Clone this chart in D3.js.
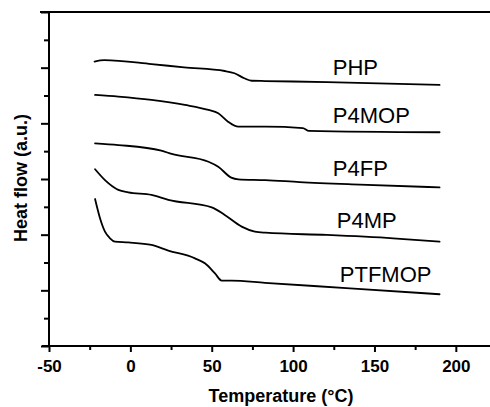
<!DOCTYPE html>
<html>
<head>
<meta charset="utf-8">
<script src="https://cdn.jsdelivr.net/npm/d3@7"></script>
<style>
html,body{margin:0;padding:0;background:#fff;}
svg{display:block;}
</style>
</head>
<body>
<svg id="chart" width="490" height="407"></svg>
<script>
// ---- data (temperature °C, heat flow a.u.) ----
const seriesNames = ["PHP", "P4MOP", "P4FP", "P4MP", "PTFMOP"];
const PHP = [[-22,10.22],[-16,10.27],[13,10.13],[33,10.01],[58,9.88],[64,9.80],[70,9.62],[74.5,9.53],[83,9.52],[121,9.48],[190,9.38]];
const P4MOP = [[-21.7,9.02],[-7.4,8.96],[13,8.84],[33.5,8.66],[48,8.48],[54,8.36],[60,8.06],[66.3,7.88],[83,7.88],[106,7.83],[109.7,7.73],[190,7.68]];
const P4FP = [[-21.7,7.28],[-7.4,7.22],[19,7.02],[25.4,6.90],[48,6.62],[54,6.44],[62,6.05],[66.3,5.99],[83,5.96],[104,5.89],[141,5.80],[190,5.70]];
const P4MP = [[-21.7,6.35],[-15.6,5.96],[-7.4,5.61],[-1.3,5.52],[13,5.43],[23.3,5.25],[50,4.98],[58,4.71],[68.4,4.29],[76.5,4.11],[83,4.07],[120.6,3.99],[161.5,3.87],[190,3.75]];
const PTFMOP = [[-21.7,5.28],[-18.7,4.60],[-15.6,4.11],[-12.5,3.87],[-9.5,3.75],[-1.3,3.72],[13,3.63],[23.3,3.43],[39.7,3.15],[45.8,2.97],[52,2.61],[56.1,2.35],[62.2,2.35],[82.7,2.27],[135,2.07],[190,1.86]];
const seriesData = [PHP, P4MOP, P4FP, P4MP, PTFMOP];
// label anchors (temperature, heat flow) for each series name
const labelT = [124.4, 124.4, 124.4, 126.9, 128.7];
const labelH = [9.74, 8.0, 6.12, 4.23, 2.31];
const xMajorTicks = [-50, 0, 50, 100, 150, 200];
const xMinorTicks = [-25, 25, 75, 125, 175];
const yTicks = [0,1,2,3,4,5,6,7,8,9,10,11,12];
const xTitle = "Temperature (°C)";
const yTitle = "Heat flow (a.u.)";

// ---- layout ----
const svg = d3.select("#chart");
const x = d3.scaleLinear().domain([-50, 221]).range([49, 490]);
const y = d3.scaleLinear().domain([0, 12]).range([346, 12]);
const FONT = "'Liberation Sans', Arial, Helvetica, sans-serif";

// frame top line
svg.append("line").attr("x1", 40).attr("x2", 490).attr("y1", y(12)).attr("y2", y(12))
  .attr("stroke", "#000").attr("stroke-width", 2);

// x axis
const xAxis = svg.append("g").attr("transform", `translate(0,${y(0)})`)
  .call(d3.axisBottom(x).tickValues(xMajorTicks).tickSize(6).tickPadding(7.6).tickFormat(d => String(d)));
xAxis.select(".domain").remove();
xAxis.selectAll(".tick line").attr("stroke-width", 2);
xAxis.selectAll(".tick text").attr("font-family", FONT).attr("font-size", 17).attr("font-weight", "bold").attr("fill", "#000");
const xMinor = svg.append("g").attr("transform", `translate(0,${y(0)})`)
  .call(d3.axisBottom(x).tickValues(xMinorTicks).tickSize(4).tickFormat(""));
xMinor.select(".domain").remove();
xMinor.selectAll(".tick line").attr("stroke-width", 2);
svg.append("line").attr("x1", 42).attr("x2", 490).attr("y1", y(0)).attr("y2", y(0))
  .attr("stroke", "#000").attr("stroke-width", 2);

// y axis
const yAxis = svg.append("g").attr("transform", `translate(${x(-50)},0)`)
  .call(d3.axisLeft(y).tickValues(yTicks).tickSize(8).tickFormat(""));
yAxis.select(".domain").remove();
yAxis.selectAll(".tick line").attr("stroke-width", 2)
  .attr("x2", d => (d % 2 === 0 ? -8 : -5));
svg.append("line").attr("x1", x(-50)).attr("x2", x(-50)).attr("y1", y(12) - 1).attr("y2", y(0) + 1)
  .attr("stroke", "#000").attr("stroke-width", 2);

// curves
const line = d3.line().x(d => x(d[0])).y(d => y(d[1])).curve(d3.curveMonotoneX);
svg.append("g").selectAll("path").data(seriesData).join("path")
  .attr("d", line).attr("fill", "none").attr("stroke", "#000")
  .attr("stroke-width", 1.8).attr("stroke-linejoin", "round").attr("stroke-linecap", "round");

// series labels
svg.append("g").selectAll("text").data(seriesNames).join("text")
  .attr("x", (d, i) => x(labelT[i])).attr("y", (d, i) => y(labelH[i]))
  .attr("font-family", FONT).attr("font-size", 22).attr("fill", "#000")
  .text(d => d);

// axis titles
svg.append("text").attr("x", 281).attr("y", 402).attr("text-anchor", "middle")
  .attr("font-family", FONT).attr("font-size", 18).attr("font-weight", "bold").text(xTitle);
svg.append("text").attr("transform", "translate(26.5,178) rotate(-90)").attr("text-anchor", "middle")
  .attr("font-family", FONT).attr("font-size", 18).attr("font-weight", "bold").text(yTitle);
</script>
</body>
</html>
